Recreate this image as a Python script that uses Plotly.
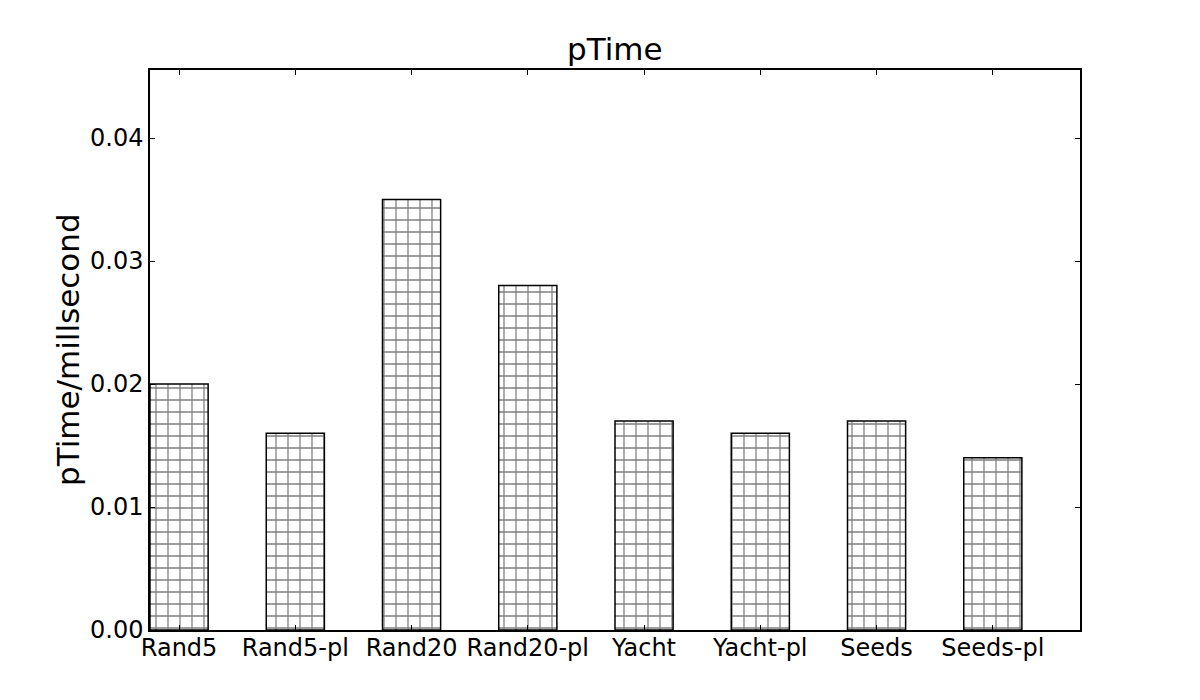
import plotly.graph_objects as go

categories = ['Rand5', 'Rand5-pl', 'Rand20', 'Rand20-pl', 'Yacht', 'Yacht-pl', 'Seeds', 'Seeds-pl']
ptime = [0.020, 0.016, 0.035, 0.028, 0.017, 0.016, 0.017, 0.014]
y_ticks = [0.0, 0.01, 0.02, 0.03, 0.04]
y_tick_labels = ['0.00', '0.01', '0.02', '0.03', '0.04']

# bars sit at left edge i, width 0.5 (matplotlib default align)
positions = [i + 0.25 for i in range(len(categories))]

fig = go.Figure()
fig.add_trace(go.Bar(
    x=positions,
    y=ptime,
    width=0.5,
    marker=dict(
        color='white',
        line=dict(color='black', width=1.5),
        pattern=dict(shape='+', size=12, solidity=0.2, fgcolor='black', bgcolor='white'),
    ),
    showlegend=False,
))

# page body has an 8px margin, so offsets are shifted by 8
fig.update_layout(
    width=1200, height=700,
    margin=dict(l=142, r=128, t=62, b=78, autoexpand=False),
    paper_bgcolor='white', plot_bgcolor='white',
    font=dict(family='DejaVu Sans', size=24, color='black'),
)

# title
fig.add_annotation(
    text='pTime', xref='paper', yref='paper', x=0.5, y=1,
    xanchor='center', yanchor='bottom', yshift=1, showarrow=False,
    font=dict(size=31),
)
# y axis label
fig.add_annotation(
    text='pTime/millsecond', textangle=-90,
    xref='paper', yref='paper', x=(68 - 150) / 930, y=0.5,
    xanchor='center', yanchor='middle', showarrow=False,
    font=dict(size=31),
)

fig.update_xaxes(
    range=[0, 8],
    tickvals=positions, ticktext=categories,
    ticks='inside', ticklen=5, tickcolor='black', ticklabelstandoff=-5,
    showline=True, linecolor='black', linewidth=1.5, mirror='ticks',
    showgrid=False, zeroline=False, automargin=False,
)
fig.update_yaxes(
    range=[0, 0.04553],
    tickvals=y_ticks, ticktext=y_tick_labels,
    ticks='inside', ticklen=5, tickcolor='black',
    showline=True, linecolor='black', linewidth=1.5, mirror='ticks',
    showgrid=False, zeroline=False, automargin=False,
)

fig.write_html("out.html")
